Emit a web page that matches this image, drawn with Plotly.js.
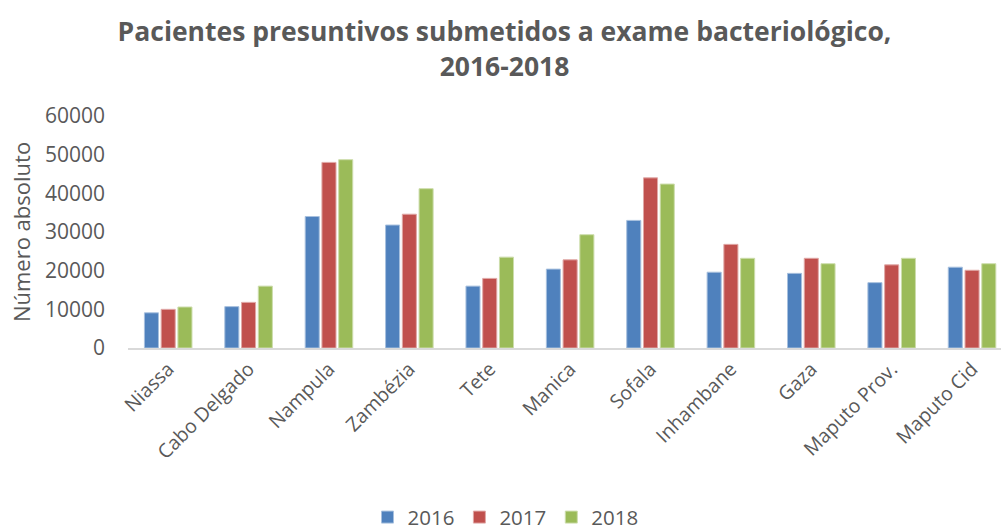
<!DOCTYPE html>
<html>
<head>
<meta charset="utf-8">
<script src="https://cdn.plot.ly/plotly-3.0.1.min.js"></script>
<style>
  html, body { margin: 0; padding: 0; background: #fff; }
  #chart { width: 1001px; height: 530px; }
</style>
</head>
<body>
<div id="chart"></div>
<script>
// Provinces and yearly counts of presumptive patients tested
const provinces = ["Niassa", "Cabo Delgado", "Nampula", "Zambézia", "Tete", "Manica",
                   "Sofala", "Inhambane", "Gaza", "Maputo Prov.", "Maputo Cid"];
const years = ["2016", "2017", "2018"];
const values2016 = [9100, 10700, 34000, 31800, 16000, 20400, 33000, 19600, 19300, 16900, 20900];
const values2017 = [10000, 11800, 48000, 34600, 18000, 22800, 44000, 26800, 23200, 21500, 20100];
const values2018 = [10600, 16000, 48700, 41200, 23500, 29300, 42400, 23200, 21800, 23200, 21800];
const yTicks = [0, 10000, 20000, 30000, 40000, 50000, 60000];

const seriesValues = [values2016, values2017, values2018];
const colors = ["#4F81BD", "#C0504D", "#9BBB59"];
const edgeColors = ["#A7C0DE", "#E0A8A6", "#CDDDAC"];

const textColor = "#595959";
const font = "Open Sans, Liberation Sans, sans-serif";

const traces = years.map((yr, i) => ({
  type: "bar",
  name: yr,
  x: provinces,
  y: seriesValues[i],
  marker: { color: colors[i], line: { color: edgeColors[i], width: 1 } },
  hoverinfo: "x+y+name"
}));

const layout = {
  width: 1001,
  height: 530,
  margin: { l: 128, r: 0, t: 116, b: 182 },
  paper_bgcolor: "#ffffff",
  plot_bgcolor: "#ffffff",
  font: { family: font, color: textColor },
  title: {
    text: "<b>Pacientes presuntivos submetidos a exame bacteriológico,<br>2016-2018</b>",
    font: { size: 26.5, color: textColor, family: font },
    x: 0.504, xref: "container", xanchor: "center",
    y: 0.922, yref: "container", yanchor: "top"
  },
  barmode: "group",
  bargap: 0.375,
  bargroupgap: 0.16,
  xaxis: {
    type: "category",
    range: [-0.5, 10.36],
    showline: true,
    linecolor: "#D9D9D9",
    linewidth: 2,
    showgrid: false,
    zeroline: false,
    ticks: "",
    tickangle: -45,
    tickfont: { size: 19.5, color: textColor, family: font },
    fixedrange: true
  },
  yaxis: {
    range: [0, 60000],
    tickvals: yTicks,
    ticktext: yTicks.map(String),
    showline: false,
    showgrid: false,
    zeroline: false,
    ticks: "",
    ticklabelstandoff: 22,
    tickfont: { size: 21, color: textColor, family: font },
    title: {
      text: "Número absoluto",
      font: { size: 22, color: textColor, family: font },
      standoff: 8
    },
    fixedrange: true
  },
  showlegend: true,
  legend: {
    orientation: "h",
    x: 0.505, xref: "container", xanchor: "center",
    y: 0.024, yref: "container", yanchor: "middle",
    font: { size: 20.5, color: textColor, family: font },
    itemclick: false,
    itemdoubleclick: false
  }
};

Plotly.newPlot("chart", traces, layout, { displayModeBar: false, staticPlot: true });
</script>
</body>
</html>
